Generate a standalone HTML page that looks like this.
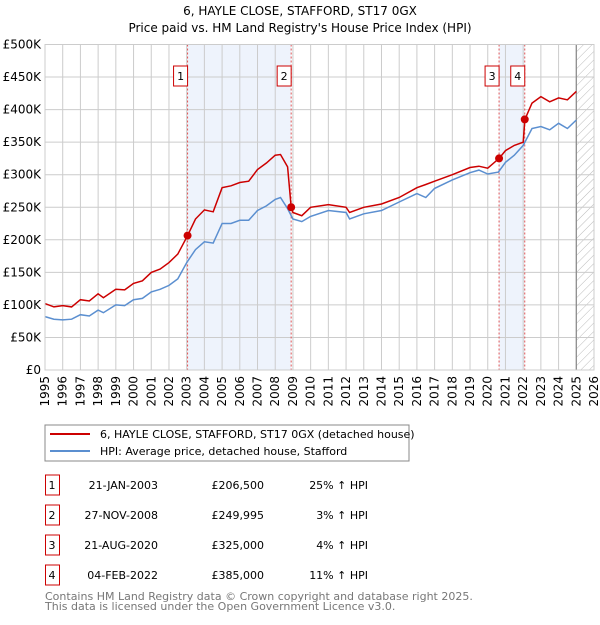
<!DOCTYPE html>
<html><head><meta charset="utf-8"><style>
body{margin:0;background:#fff;font-family:"Liberation Sans","DejaVu Sans",sans-serif;}
svg text{font-family:"DejaVu Sans","Liberation Sans",sans-serif;}
</style></head><body>
<svg id="c" width="600" height="620" xmlns="http://www.w3.org/2000/svg">
<defs><pattern id="hatch" width="6" height="6" patternUnits="userSpaceOnUse" patternTransform="rotate(45)"><line x1="0" y1="0" x2="0" y2="6" stroke="#bbb" stroke-width="1"/></pattern></defs>
<text x="300" y="15" text-anchor="middle" font-size="12">6, HAYLE CLOSE, STAFFORD, ST17 0GX</text>
<text x="300" y="32" text-anchor="middle" font-size="12">Price paid vs. HM Land Registry's House Price Index (HPI)</text>
<g id="plot"></g>
<g>
<rect x="45" y="425" width="364" height="36" fill="#fff" stroke="#888"/>
<line x1="50" y1="434" x2="90" y2="434" stroke="#cc0000" stroke-width="2"/>
<text x="100" y="438" font-size="11">6, HAYLE CLOSE, STAFFORD, ST17 0GX (detached house)</text>
<line x1="50" y1="451" x2="90" y2="451" stroke="#5b8fd0" stroke-width="2"/>
<text x="100" y="455" font-size="11">HPI: Average price, detached house, Stafford</text>
</g>
<g id="table" font-size="11"></g>
<text x="45" y="600" font-size="11" fill="#777">Contains HM Land Registry data © Crown copyright and database right 2025.</text>
<text x="45" y="610" font-size="11" fill="#777">This data is licensed under the Open Government Licence v3.0.</text>
</svg>
<script>
const hpiYears=[1995,1995.5,1996,1996.5,1997,1997.5,1998,1998.3,1999,1999.5,2000,2000.5,2001,2001.5,2002,2002.5,2003,2003.5,2004,2004.5,2005,2005.5,2006,2006.5,2007,2007.5,2008,2008.3,2008.7,2009,2009.5,2010,2011,2012,2012.2,2013,2014,2015,2016,2016.5,2017,2018,2019,2019.5,2020,2020.6,2021,2021.5,2022,2022.5,2023,2023.5,2024,2024.5,2025];
const hpiValues=[82,78,77,78,85,83,92,88,100,99,108,110,120,124,130,140,165,185,197,195,225,225,230,230,245,252,262,265,248,232,228,236,245,242,232,240,245,258,271,265,279,292,303,307,301,304,319,330,345,371,374,369,379,371,384];
const priceYears=[1995,1995.5,1996,1996.5,1997,1997.5,1998,1998.3,1999,1999.5,2000,2000.5,2001,2001.5,2002,2002.5,2003.05,2003.5,2004,2004.5,2005,2005.5,2006,2006.5,2007,2007.5,2008,2008.3,2008.7,2008.9,2009,2009.5,2010,2011,2012,2012.2,2013,2014,2015,2016,2016.5,2017,2018,2019,2019.5,2020,2020.64,2021,2021.5,2022.0,2022.1,2022.5,2023,2023.5,2024,2024.5,2025];
const priceValues=[102,97,99,97,108,106,117,111,124,123,133,137,150,155,165,178,206.5,232,246,243,280,283,288,290,308,318,330,331,312,250,242,237,250,254,250,242,250,255,265,280,285,290,300,311,313,310,325,337,345,350,385,410,420,412,418,415,428];
const saleYears=[2003.05,2008.9,2020.64,2022.09];
const saleValues=[206.5,249.995,325,385];
const saleLabels=["1","2","3","4"];
const saleDates=["21-JAN-2003","27-NOV-2008","21-AUG-2020","04-FEB-2022"];
const salePrices=["£206,500","£249,995","£325,000","£385,000"];
const saleHpi=["25% ↑ HPI","3% ↑ HPI","4% ↑ HPI","11% ↑ HPI"];
const yTicks=[0,50,100,150,200,250,300,350,400,450,500];
const yTickLabels=["£0","£50K","£100K","£150K","£200K","£250K","£300K","£350K","£400K","£450K","£500K"];
const xTicks=[1995,1996,1997,1998,1999,2000,2001,2002,2003,2004,2005,2006,2007,2008,2009,2010,2011,2012,2013,2014,2015,2016,2017,2018,2019,2020,2021,2022,2023,2024,2025,2026];

const L=45,R=594,T=44.5,B=370,x0=1995,x1=2026;
const X=v=>L+(v-x0)/(x1-x0)*(R-L);
const Y=v=>B-v/500*(B-T);
const NS="http://www.w3.org/2000/svg";
const plot=document.getElementById('plot');
function mk(tag,attrs,parent){const e=document.createElementNS(NS,tag);for(const k in attrs)e.setAttribute(k,attrs[k]);(parent||plot).appendChild(e);return e;}
// shaded periods
for(let i=0;i<saleYears.length;i+=2){
 const r=mk('rect',{x:X(saleYears[i]),y:T,width:X(saleYears[i+1])-X(saleYears[i]),height:B-T,fill:'#eef3fc'});
 
 
}
// hatch future
const hz=mk('rect',{x:X(2025),y:T,width:R-X(2025),height:B-T,fill:'url(#hatch)'});


// grid
yTicks.forEach((t,i)=>{
 const g=mk('line',{x1:L,x2:R,y1:Y(t),y2:Y(t),stroke:'#ccc','stroke-width':1});
 
 
 const tx=mk('text',{x:L-4,y:Y(t)+4,'text-anchor':'end','font-size':12});
 tx.textContent=yTickLabels[i];
 
 
});
xTicks.forEach(t=>{
 const g=mk('line',{x1:X(t),x2:X(t),y1:T,y2:B,stroke:'#ccc','stroke-width':1});
 
 
 const tx=mk('text',{x:0,y:0,'text-anchor':'end','font-size':12,transform:`translate(${X(t)+4},${B+6}) rotate(-90)`});
 tx.textContent=t;
 
 
});
const v25=mk('line',{x1:X(2025),x2:X(2025),y1:T,y2:B,stroke:'#888','stroke-width':1.2});


// sale vlines + labels
saleYears.forEach((s,i)=>{
 const l=mk('line',{x1:X(s),x2:X(s),y1:T,y2:B,stroke:'#e05555','stroke-width':1,'stroke-dasharray':'2,2'});
 
 
 const bx=X(s)-13;
 const r=mk('rect',{x:bx-1,y:66,width:14,height:20,fill:'#fff',stroke:'#cc0000'});
 
 
 const t=mk('text',{x:bx+6,y:80,'text-anchor':'middle','font-size':11});
 t.textContent=saleLabels[i];
 
 
});
function path(xs,ys){return xs.map((v,i)=>(i?'L':'M')+X(v).toFixed(1)+','+Y(ys[i]).toFixed(1)).join('');}
const hp=mk('path',{d:path(hpiYears,hpiValues),fill:'none',stroke:'#5b8fd0','stroke-width':1.5});


const pp=mk('path',{d:path(priceYears,priceValues),fill:'none',stroke:'#cc0000','stroke-width':1.5});


saleYears.forEach((s,i)=>{
 const c=mk('circle',{cx:X(s),cy:Y(saleValues[i]),r:4,fill:'#cc0000'});
 
 
});
const fr=mk('rect',{x:L,y:T,width:R-L,height:B-T,fill:'none',stroke:'#ccc'});


// table
const tb=document.getElementById('table');
saleLabels.forEach((lab,i)=>{
 const y=485+i*30;
 const r=mk('rect',{x:45.5,y:y-10,width:14,height:20,fill:'#fff',stroke:'#cc0000'},tb);
 
 
 const cells=[[52,lab,'middle'],[158,saleDates[i],'end'],[264,salePrices[i],'end'],[368,saleHpi[i],'end']];
 cells.forEach(([cx,txt,a])=>{
  const t=mk('text',{x:cx,y:y+4,'text-anchor':a,'font-size':11},tb);
  t.textContent=txt;
  
  
 });
});
</script>
</body></html>
